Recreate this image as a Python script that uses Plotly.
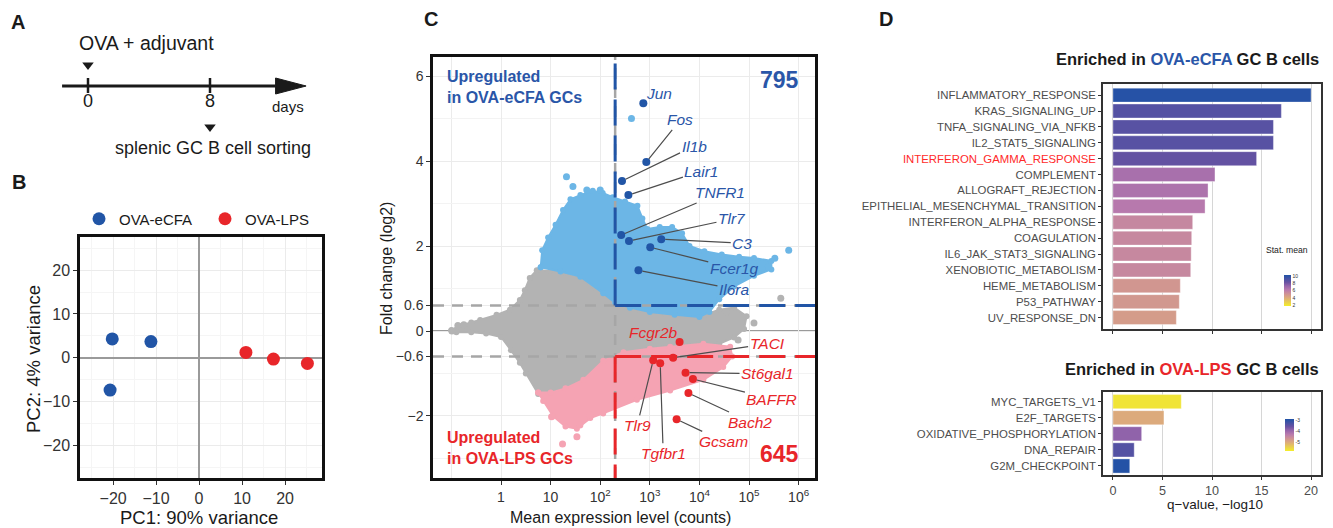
import numpy as np
import plotly.graph_objects as go

W, H = 1333, 528
FONT = "Liberation Sans, Arial, Helvetica, sans-serif"


def fx(p):
    return p / W


def fy(p):
    return 1 - p / H


# ---------------- Panel A data ----------------
timeline_days = [0, 8]
timeline_tick_labels = ["0", "8"]
timeline_events = ["OVA + adjuvant", "splenic GC B cell sorting"]
timeline_unit = "days"
timeline_span = [-1.7, 14.3]

# ---------------- Panel B data ----------------
pca_groups = ["OVA-eCFA", "OVA-LPS"]
pc1_ecfa = [-20.2, -11.2, -20.7]
pc2_ecfa = [4.3, 3.7, -7.4]
pc1_lps = [10.9, 17.3, 25.2]
pc2_lps = [1.2, -0.3, -1.3]
pca_ticks = [-20, -10, 0, 10, 20]
pca_tick_text = ["\u221220", "\u221210", "0", "10", "20"]
pca_minor = [-25, -15, -5, 5, 15, 25]
pc1_title = "PC1: 90% variance"
pc2_title = "PC2: 4% variance"

# ---------------- Panel C data ----------------
# outlines of the dense point clouds (log10 mean counts, log2 fold change)
gray_cloud_log10_mean = [-1.0, -0.85, -0.6, -0.42, -0.09, 0.18, 0.38, 0.48, 0.58, 0.72, 1.0, 1.3, 1.6,
                         1.9, 2.1, 2.4, 2.8, 3.3, 3.8, 4.1, 4.4, 4.7, 4.95, 4.9, 4.7, 4.4, 4.0, 3.5,
                         3.0, 2.6, 2.2, 1.9, 1.6, 1.3, 1.0, 0.75, 0.5, 0.38, 0.2, 0.0, -0.3, -0.6, -0.9]
gray_cloud_lfc = [0.02, 0.12, 0.2, 0.26, 0.38, 0.5, 0.73, 0.96, 1.25, 1.43, 1.42, 1.38, 1.25,
                  1.0, 0.85, 0.62, 0.5, 0.42, 0.38, 0.38, 0.5, 0.55, 0.35, 0.05, -0.15, -0.3, -0.3, -0.35,
                  -0.4, -0.5, -0.7, -1.0, -1.25, -1.4, -1.5, -1.48, -1.0, -0.75, -0.45, -0.14, -0.06, -0.03, -0.03]
blue_cloud_log10_mean = [0.8, 0.83, 0.95, 1.1, 1.25, 1.4, 1.6, 1.85, 2.05, 2.25, 2.5, 2.75, 2.85, 2.95,
                         3.2, 3.45, 3.65, 3.8, 4.1, 4.45, 4.8, 5.1, 5.45, 5.45, 5.1, 4.7, 4.4, 4.2,
                         4.0, 3.5, 3.0, 2.6, 2.3, 2.06, 1.6, 1.2]
blue_cloud_lfc = [1.5, 1.9, 2.2, 2.5, 2.85, 3.1, 3.2, 3.3, 3.25, 3.15, 3.05, 2.95, 2.65, 2.4,
                  2.45, 2.45, 2.3, 2.0, 1.88, 1.8, 1.75, 1.72, 1.65, 1.45, 1.3, 1.05, 0.75, 0.45,
                  0.33, 0.38, 0.45, 0.55, 0.66, 0.89, 1.28, 1.4]
pink_cloud_log10_mean = [0.75, 1.0, 1.3, 1.66, 2.06, 2.47, 3.0, 3.41, 4.08, 4.62, 4.66, 4.48, 4.08,
                         3.41, 2.74, 2.06, 1.8, 1.53, 1.3, 1.05, 0.85]
pink_cloud_lfc = [-1.45, -1.45, -1.35, -1.15, -0.7, -0.5, -0.42, -0.37, -0.3, -0.37, -0.6, -0.85, -1.15,
                  -1.4, -1.62, -1.94, -2.05, -2.3, -2.25, -2.0, -1.65]
# scattered individual genes outside the dense clouds
gray_extra_log10_mean = [-0.99, -0.87, -0.75, 3.81, 4.55, 5.1, 5.64, 4.78]
gray_extra_lfc = [0.0, 0.13, 0.15, 0.96, 0.45, 0.19, 0.77, -0.21]
blue_extra_log10_mean = [1.32, 1.45, 2.63, 5.8, 5.52, 5.39, 1.73, 2.0]
blue_extra_lfc = [3.63, 3.4, 5.0, 1.9, 1.71, 1.51, 3.32, 3.32]
pink_extra_log10_mean = [1.24, 1.53, 1.59, 1.8, 1.02]
pink_extra_lfc = [-2.66, -2.49, -2.21, -1.98, -2.02]

up_genes = ["Jun", "Fos", "Il1b", "Lair1", "TNFR1", "Tlr7", "C3", "Fcer1g", "Il6ra"]
up_mean = [740, 850, 275, 370, 265, 380, 1700, 1020, 590]
up_lfc = [5.36, 3.98, 3.53, 3.2, 2.26, 2.12, 2.16, 1.97, 1.43]
down_genes = ["Fcgr2b", "TACI", "Tlr9", "Tgfbr1", "St6gal1", "BAFFR", "Bach2", "Gcsam"]
down_mean = [3980, 2950, 1170, 1620, 5250, 7400, 6000, 3470]
down_lfc = [-0.26, -0.63, -0.69, -0.76, -0.98, -1.13, -1.46, -2.08]

count_threshold = 200
lfc_threshold = 0.6
n_up = 795
n_down = 645
ma_xticks = [1, 10, 100, 1e3, 1e4, 1e5, 1e6]
ma_xtick_text = ["1", "10", "10<sup>2</sup>", "10<sup>3</sup>", "10<sup>4</sup>", "10<sup>5</sup>", "10<sup>6</sup>"]
ma_yticks = [6, 4, 2, 0.6, 0, -0.6, -2]
ma_ytick_text = ["6", "4", "2", "0.6", "0", "\u22120.6", "\u22122"]
ma_yminor = [5, 3, 1, -1, -3]

# ---------------- Panel D data ----------------
ecfa_terms = ["INFLAMMATORY_RESPONSE", "KRAS_SIGNALING_UP", "TNFA_SIGNALING_VIA_NFKB", "IL2_STAT5_SIGNALING",
              "INTERFERON_GAMMA_RESPONSE", "COMPLEMENT", "ALLOGRAFT_REJECTION",
              "EPITHELIAL_MESENCHYMAL_TRANSITION", "INTERFERON_ALPHA_RESPONSE", "COAGULATION",
              "IL6_JAK_STAT3_SIGNALING", "XENOBIOTIC_METABOLISM", "HEME_METABOLISM", "P53_PATHWAY",
              "UV_RESPONSE_DN"]
ecfa_q = [20.0, 17.0, 16.2, 16.2, 14.5, 10.3, 9.6, 9.3, 8.05, 7.95, 7.9, 7.85, 6.8, 6.7, 6.4]
ecfa_stat = [10.2, 8.9, 8.8, 8.8, 8.5, 6.75, 6.6, 6.3, 5.6, 5.55, 5.55, 5.55, 4.9, 4.85, 4.65]
lps_terms = ["MYC_TARGETS_V1", "E2F_TARGETS", "OXIDATIVE_PHOSPHORYLATION", "DNA_REPAIR", "G2M_CHECKPOINT"]
lps_q = [6.9, 5.15, 2.9, 2.15, 1.7]
lps_stat = [-5.7, -5.02, -3.86, -3.35, -2.9]
highlight_term = "INTERFERON_GAMMA_RESPONSE"
q_ticks = [0, 5, 10, 15, 20]

# ---------------- styles ----------------
BLUE = "#2a56a8"
DBLUE = "#2155a6"
LBLUE = "#6cb6e6"
RED = "#e8262a"
PINK = "#f5a3b3"
GRAY = "#b3b3b3"
cscale = [[0.0, "#f4ee2a"], [0.27, "#dcaa7c"], [0.4, "#cd9097"], [0.52, "#b97aad"],
          [0.64, "#9866ab"], [0.76, "#6a52a2"], [1.0, "#1f52a6"]]

up_label_pos = {"Jun": (16, -10, False), "Fos": (34, -42, True), "Il1b": (72, -35, True),
                "Lair1": (73, -24, True), "TNFR1": (99, -42, True), "Tlr7": (103, -22, True),
                "C3": (81, 4, True), "Fcer1g": (84, 21, True), "Il6ra": (96, 19, True)}
down_label_pos = {"Fcgr2b": (-26, -10, False), "TACI": (94, -14, True), "Tlr9": (-16, 65, True),
                  "Tgfbr1": (3, 90, True), "St6gal1": (82, 1, True), "BAFFR": (79, 20, True),
                  "Bach2": (62, 29, True), "Gcsam": (47, 22, True)}

fig = go.Figure()
annotations = []
shapes = []

# ================= Panel A =================
shapes.append(dict(type="line", xref="x4", yref="y4", x0=timeline_span[0], x1=timeline_span[1] - 2.0,
                   y0=86, y1=86, line=dict(color="#1a1a1a", width=3)))
shapes.append(dict(type="path", xref="x4", yref="y4",
                   path=f"M {timeline_span[1]-2.0},78 L {timeline_span[1]},86 L {timeline_span[1]-2.0},94 Z",
                   fillcolor="#1a1a1a", line=dict(color="#1a1a1a", width=1)))
for d, lab in zip(timeline_days, timeline_tick_labels):
    shapes.append(dict(type="line", xref="x4", yref="y4", x0=d, x1=d, y0=78, y1=93,
                       line=dict(color="#1a1a1a", width=2.5)))
    annotations.append(dict(xref="x4", yref="y4", x=d, y=101, text=lab, showarrow=False,
                            font=dict(size=18, color="#1a1a1a")))
fig.add_trace(go.Scatter(x=timeline_days, y=[65, 127], mode="markers", xaxis="x4", yaxis="y4",
                         marker=dict(symbol="triangle-down", size=10, color="#1a1a1a"),
                         showlegend=False, hoverinfo="skip"))
annotations.append(dict(xref="x4", yref="y4", x=timeline_days[0], y=43, text=timeline_events[0],
                        xanchor="left", xshift=-11, showarrow=False, font=dict(size=19.5, color="#1a1a1a")))
annotations.append(dict(xref="x4", yref="y4", x=timeline_days[1], y=148, text=timeline_events[1],
                        xanchor="center", xshift=3, showarrow=False, font=dict(size=18, color="#1a1a1a")))
annotations.append(dict(xref="x4", yref="y4", x=timeline_span[1], y=106, text=timeline_unit,
                        xanchor="right", showarrow=False, font=dict(size=15, color="#1a1a1a")))

# ================= Panel B =================
fig.add_trace(go.Scatter(x=pc1_ecfa, y=pc2_ecfa, mode="markers", name=pca_groups[0],
                         marker=dict(size=13, color=DBLUE), xaxis="x", yaxis="y"))
fig.add_trace(go.Scatter(x=pc1_lps, y=pc2_lps, mode="markers", name=pca_groups[1],
                         marker=dict(size=13, color=RED), xaxis="x", yaxis="y"))

# ================= Panel C =================
def cloud(lm, lfc, color, closed=True):
    xs = list(10 ** np.array(lm))
    ys = list(lfc)
    if closed:
        xs.append(xs[0])
        ys.append(ys[0])
        return go.Scatter(x=xs, y=ys, mode="lines+markers", fill="toself", fillcolor=color,
                          line=dict(color=color, width=2), marker=dict(size=6, color=color),
                          xaxis="x2", yaxis="y2", showlegend=False, hoverinfo="skip")
    return go.Scatter(x=xs, y=ys, mode="markers", marker=dict(size=7, color=color),
                      xaxis="x2", yaxis="y2", showlegend=False, hoverinfo="skip")


ma_xrange = [-1.371, 6.33]
ma_yrange = [-3.46, 6.45]
xl, xr = 10 ** ma_xrange[0], 10 ** ma_xrange[1]
yb, yt = ma_yrange

fig.add_trace(cloud(gray_cloud_log10_mean, gray_cloud_lfc, GRAY))
fig.add_trace(cloud(gray_extra_log10_mean, gray_extra_lfc, GRAY, closed=False))
fig.add_trace(cloud(blue_cloud_log10_mean, blue_cloud_lfc, LBLUE))
fig.add_trace(cloud(blue_extra_log10_mean, blue_extra_lfc, LBLUE, closed=False))
fig.add_trace(cloud(pink_cloud_log10_mean, pink_cloud_lfc, PINK))
fig.add_trace(cloud(pink_extra_log10_mean, pink_extra_lfc, PINK, closed=False))


def seg(x, y, color, dash, width):
    return go.Scatter(x=x, y=y, mode="lines", line=dict(color=color, dash=dash, width=width),
                      xaxis="x2", yaxis="y2", showlegend=False, hoverinfo="skip")


# zero line
shapes.append(dict(type="line", xref="x2 domain", yref="y2", x0=0, x1=1, y0=0, y1=0, layer="below",
                   line=dict(color="#9a9a9a", width=2)))
GD = "11px,8px"
CD = "26px,10px"
fig.add_trace(seg([xl, xr], [lfc_threshold] * 2, "#a6a6a6", GD, 2.5))
fig.add_trace(seg([xl, xr], [-lfc_threshold] * 2, "#a6a6a6", GD, 2.5))
fig.add_trace(seg([count_threshold] * 2, [yb, yt], "#a6a6a6", GD, 2.5))
fig.add_trace(seg([count_threshold, xr], [lfc_threshold] * 2, DBLUE, CD, 3))
fig.add_trace(seg([count_threshold, xr], [-lfc_threshold] * 2, RED, CD, 3))
fig.add_trace(seg([count_threshold] * 2, [lfc_threshold, yt], DBLUE, CD, 3))
fig.add_trace(seg([count_threshold] * 2, [-lfc_threshold, yb], RED, CD, 3))

fig.add_trace(go.Scatter(x=up_mean, y=up_lfc, mode="markers", marker=dict(size=8, color=DBLUE),
                         xaxis="x2", yaxis="y2", showlegend=False, hoverinfo="skip"))
fig.add_trace(go.Scatter(x=down_mean, y=down_lfc, mode="markers", marker=dict(size=8, color=RED),
                         xaxis="x2", yaxis="y2", showlegend=False, hoverinfo="skip"))


def gene_labels(genes, means, lfcs, pos, color):
    for g, m, v in zip(genes, means, lfcs):
        dx, dy, arrow = pos[g]
        a = dict(xref="x2", yref="y2", x=float(np.log10(m)), y=v, text=f"<i>{g}</i>",
                 font=dict(size=15.5, color=color))
        if arrow:
            a.update(showarrow=True, arrowhead=0, arrowwidth=1.2, arrowcolor="#4d4d4d",
                     ax=dx, ay=dy, standoff=4)
        else:
            a.update(showarrow=False, xshift=dx, yshift=-dy)
        annotations.append(a)


gene_labels(up_genes, up_mean, up_lfc, up_label_pos, BLUE)
gene_labels(down_genes, down_mean, down_lfc, down_label_pos, RED)

annotations.append(dict(xref="paper", yref="paper", x=fx(445), y=fy(66), xanchor="left", yanchor="top",
                        align="left", text="<b>Upregulated<br>in OVA-eCFA GCs</b>", showarrow=False,
                        font=dict(size=16, color=BLUE)))
annotations.append(dict(xref="paper", yref="paper", x=fx(445), y=fy(427), xanchor="left", yanchor="top",
                        align="left", text="<b>Upregulated<br>in OVA-LPS GCs</b>", showarrow=False,
                        font=dict(size=16, color=RED)))
annotations.append(dict(xref="paper", yref="paper", x=fx(801), y=fy(80), xanchor="right",
                        text=f"<b>{n_up}</b>", showarrow=False, font=dict(size=23, color=BLUE)))
annotations.append(dict(xref="paper", yref="paper", x=fx(801), y=fy(454), xanchor="right",
                        text=f"<b>{n_down}</b>", showarrow=False, font=dict(size=23, color=RED)))
annotations.append(dict(xref="paper", yref="paper", x=fx(620), y=fy(517),
                        text="Mean expression level (counts)", showarrow=False,
                        font=dict(size=16, color="#1a1a1a")))
annotations.append(dict(xref="paper", yref="paper", x=fx(386), y=fy(269), textangle=-90,
                        text="Fold change (log2)", showarrow=False, font=dict(size=16, color="#1a1a1a")))

# PCA titles
annotations.append(dict(xref="paper", yref="paper", x=fx(199), y=fy(517), text=pc1_title,
                        showarrow=False, font=dict(size=18.5, color="#1a1a1a")))
annotations.append(dict(xref="paper", yref="paper", x=fx(33), y=fy(359), textangle=-90, text=pc2_title,
                        showarrow=False, font=dict(size=18.5, color="#1a1a1a")))

# ================= Panel D =================
fig.add_trace(go.Bar(y=ecfa_terms, x=ecfa_q, orientation="h", xaxis="x3", yaxis="y3", showlegend=False,
                     marker=dict(color=ecfa_stat, colorscale=cscale, cmin=1.7, cmax=10.4,
                                 line=dict(color="rgba(255,255,255,0.6)", width=0.6),
                                 showscale=True,
                                 colorbar=dict(x=fx(1274), xanchor="left", y=fy(290.5), yanchor="middle",
                                               len=51, lenmode="pixels", thickness=7, outlinewidth=0,
                                               tickvals=[2, 4, 6, 8, 10], ticks="",
                                               tickfont=dict(size=5, color="#333"))),
                     hoverinfo="skip"))
fig.add_trace(go.Bar(y=lps_terms, x=lps_q, orientation="h", xaxis="x5", yaxis="y5", showlegend=False,
                     marker=dict(color=lps_stat, colorscale=cscale, cmin=-5.82, cmax=-2.85,
                                 line=dict(color="rgba(255,255,255,0.6)", width=0.6),
                                 showscale=True,
                                 colorbar=dict(x=fx(1275), xanchor="left", y=fy(435), yanchor="middle",
                                               len=52, lenmode="pixels", thickness=9, outlinewidth=0,
                                               tickvals=[-3, -4, -5], ticktext=["-3", "-4", "-5"],
                                               ticks="",
                                               tickfont=dict(size=5, color="#333"))),
                     hoverinfo="skip"))

annotations.append(dict(xref="paper", yref="paper", x=fx(1287), y=fy(250), text="Stat. mean",
                        showarrow=False, font=dict(size=8.6, color="#1a1a1a")))
annotations.append(dict(xref="paper", yref="paper", x=fx(1321), y=fy(59), xanchor="right",
                        text=f"<b>Enriched in <span style='color:{BLUE}'>OVA-eCFA</span> GC B cells</b>",
                        showarrow=False, font=dict(size=16.5, color="#1a1a1a")))
annotations.append(dict(xref="paper", yref="paper", x=fx(1321), y=fy(369), xanchor="right",
                        text=f"<b>Enriched in <span style='color:{RED}'>OVA-LPS</span> GC B cells</b>",
                        showarrow=False, font=dict(size=16.5, color="#1a1a1a")))
annotations.append(dict(xref="paper", yref="paper", x=fx(1215), y=fy(504), text="q\u2212value, \u2212log10",
                        showarrow=False, font=dict(size=13.5, color="#1a1a1a")))

ecfa_ticktext = [f"<span style='color:#ff2a2a'>{t}</span>" if t == highlight_term else t for t in ecfa_terms]

# panel letters
for letter, (lx, ly) in {"A": (18, 22), "B": (19, 182), "C": (431, 19), "D": (886, 19)}.items():
    annotations.append(dict(xref="paper", yref="paper", x=fx(lx), y=fy(ly), text=f"<b>{letter}</b>",
                            showarrow=False, font=dict(size=20, color="#1a1a1a")))

for a in annotations:
    a.setdefault("xanchor", "center")
    a.setdefault("yanchor", "middle")

# ================= Layout =================
common_tick = dict(ticks="outside", ticklen=4, tickcolor="#333")
fig.update_layout(
    width=W, height=H, autosize=False,
    margin=dict(l=0, r=0, t=0, b=0),
    paper_bgcolor="white", plot_bgcolor="white",
    font=dict(family=FONT, color="#1a1a1a"),
    bargap=0.12,
    showlegend=True,
    legend=dict(orientation="h", x=fx(79), y=fy(219), xanchor="left", yanchor="middle",
                entrywidth=81, entrywidthmode="pixels", font=dict(size=15, color="#1a1a1a"),
                bgcolor="rgba(0,0,0,0)", itemclick=False),
    xaxis=dict(domain=[fx(80), fx(322)], range=[-27.7, 28.6], anchor="y",
               tickvals=pca_ticks, ticktext=pca_tick_text, tickfont=dict(size=16, color="#333"),
               showgrid=True, gridcolor="#ebebeb", gridwidth=1,
               minor=dict(tickvals=pca_minor, showgrid=True, gridcolor="#f5f5f5", ticks=""),
               zeroline=True, zerolinecolor="#9a9a9a", zerolinewidth=2,
               showline=True, mirror=True, linecolor="#111", linewidth=2.5, **common_tick),
    yaxis=dict(domain=[fy(478), fy(237)], range=[-27.5, 27.6], anchor="x",
               tickvals=pca_ticks, ticktext=pca_tick_text, tickfont=dict(size=16, color="#333"),
               showgrid=True, gridcolor="#ebebeb", gridwidth=1,
               minor=dict(tickvals=pca_minor, showgrid=True, gridcolor="#f5f5f5", ticks=""),
               zeroline=True, zerolinecolor="#9a9a9a", zerolinewidth=2,
               showline=True, mirror=True, linecolor="#111", linewidth=2.5, **common_tick),
    xaxis2=dict(domain=[fx(433), fx(815)], type="log", range=ma_xrange, anchor="y2",
                tickvals=ma_xticks, ticktext=ma_xtick_text, tickfont=dict(size=14, color="#333"),
                showgrid=True, gridcolor="#ebebeb",
                minor=dict(tickvals=[0.1], showgrid=True, gridcolor="#ebebeb", ticks=""),
                zeroline=False, showline=True, mirror=True, linecolor="#111", linewidth=2.5, **common_tick),
    yaxis2=dict(domain=[fy(478), fy(57)], range=ma_yrange, anchor="x2",
                tickvals=ma_yticks, ticktext=ma_ytick_text, tickfont=dict(size=14, color="#333"),
                showgrid=True, gridcolor="#ebebeb",
                minor=dict(tickvals=ma_yminor, showgrid=True, gridcolor="#f3f3f3", ticks=""),
                zeroline=False, showline=True, mirror=True, linecolor="#111", linewidth=2.5, **common_tick),
    xaxis3=dict(domain=[fx(1103), fx(1321)], range=[-1, 21], anchor="y3",
                tickvals=q_ticks, showticklabels=False, showgrid=True, gridcolor="#d6d6d6",
                zeroline=False, showline=True, mirror=True, linecolor="#333", linewidth=1.5,
                ticks="outside", ticklen=3, tickcolor="#333"),
    yaxis3=dict(domain=[fy(329), fy(84)], type="category", categoryorder="array", categoryarray=ecfa_terms,
                range=[14.72, -0.7], anchor="x3", tickvals=ecfa_terms, ticktext=ecfa_ticktext,
                tickfont=dict(size=11.4, color="#4d4d4d"), showgrid=False, zeroline=False,
                showline=True, mirror=True, linecolor="#333", linewidth=1.5,
                ticks="outside", ticklen=3, tickcolor="#333"),
    xaxis5=dict(domain=[fx(1103), fx(1321)], range=[-1, 21], anchor="y5",
                tickvals=q_ticks, tickfont=dict(size=12.6, color="#4d4d4d"), showgrid=True, gridcolor="#d6d6d6",
                zeroline=False, showline=True, mirror=True, linecolor="#333", linewidth=1.5,
                ticks="outside", ticklen=3, tickcolor="#333"),
    yaxis5=dict(domain=[fy(475), fy(392)], type="category", categoryorder="array", categoryarray=lps_terms,
                range=[4.56, -0.6], anchor="x5", tickfont=dict(size=11.4, color="#4d4d4d"),
                showgrid=False, zeroline=False, showline=True, mirror=True, linecolor="#333", linewidth=1.5,
                ticks="outside", ticklen=3, tickcolor="#333"),
    xaxis4=dict(domain=[0, fx(340)], range=[(0 - 88) / 15.25, (340 - 88) / 15.25], anchor="y4",
                visible=False, fixedrange=True),
    yaxis4=dict(domain=[fy(165), fy(25)], range=[165, 25], anchor="x4", visible=False, fixedrange=True),
    annotations=annotations,
    shapes=shapes,
)

fig.write_html("out.html", config={"displayModeBar": False},
               post_script="document.body.style.margin='0';")
